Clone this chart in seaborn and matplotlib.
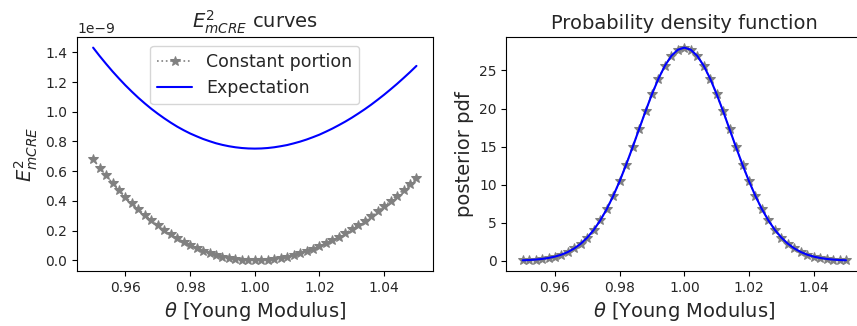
import numpy as np
import matplotlib
matplotlib.use("Agg")
import matplotlib.pyplot as plt
import seaborn as sns

sns.set_style("ticks")
plt.rcParams['font.family'] = ['DejaVu Sans']

# theta grid (Young modulus), 51 points
theta = [0.950, 0.952, 0.954, 0.956, 0.958, 0.960, 0.962, 0.964, 0.966, 0.968,
         0.970, 0.972, 0.974, 0.976, 0.978, 0.980, 0.982, 0.984, 0.986, 0.988,
         0.990, 0.992, 0.994, 0.996, 0.998, 1.000, 1.002, 1.004, 1.006, 1.008,
         1.010, 1.012, 1.014, 1.016, 1.018, 1.020, 1.022, 1.024, 1.026, 1.028,
         1.030, 1.032, 1.034, 1.036, 1.038, 1.040, 1.042, 1.044, 1.046, 1.048,
         1.050]

# E^2_mCRE, in units of 1e-9
constant_portion = [0.680, 0.624, 0.571, 0.520, 0.472, 0.426, 0.383, 0.342, 0.304, 0.268,
                    0.235, 0.204, 0.175, 0.148, 0.124, 0.102, 0.083, 0.065, 0.050, 0.036,
                    0.025, 0.016, 0.009, 0.004, 0.001, 0.000, 0.001, 0.004, 0.009, 0.016,
                    0.024, 0.035, 0.047, 0.061, 0.077, 0.094, 0.114, 0.135, 0.158, 0.182,
                    0.208, 0.236, 0.265, 0.296, 0.329, 0.363, 0.399, 0.436, 0.475, 0.515,
                    0.557]
expectation = [1.432, 1.376, 1.323, 1.272, 1.224, 1.178, 1.135, 1.094, 1.056, 1.020,
               0.987, 0.956, 0.927, 0.900, 0.876, 0.854, 0.835, 0.817, 0.802, 0.788,
               0.777, 0.768, 0.761, 0.756, 0.753, 0.752, 0.753, 0.756, 0.761, 0.768,
               0.776, 0.787, 0.799, 0.813, 0.829, 0.846, 0.866, 0.887, 0.910, 0.934,
               0.960, 0.988, 1.017, 1.048, 1.081, 1.115, 1.151, 1.188, 1.227, 1.267,
               1.309]

# posterior pdf
pdf_samples = [0.059, 0.096, 0.153, 0.238, 0.363, 0.544, 0.799, 1.150, 1.624, 2.247,
               3.051, 4.060, 5.297, 6.777, 8.500, 10.454, 12.606, 14.905, 17.278, 19.639,
               21.888, 23.917, 25.624, 26.918, 27.725, 28.000, 27.725, 26.918, 25.624, 23.917,
               21.888, 19.639, 17.278, 14.905, 12.606, 10.454, 8.500, 6.777, 5.297, 4.060,
               3.051, 2.247, 1.624, 1.150, 0.799, 0.544, 0.363, 0.238, 0.153, 0.096,
               0.059]
pdf_curve = list(pdf_samples)

theta = np.array(theta)
scale = 1e-9

fig = plt.figure(figsize=(8.57, 3.26), dpi=100)
ax1 = fig.add_axes([0.0898, 0.169, 0.415, 0.7175])
ax2 = fig.add_axes([0.591, 0.169, 0.415, 0.7175])

gray_kw = dict(color='gray', linestyle=':', marker='*', markersize=7,
               markeredgecolor='gray', markerfacecolor='gray', linewidth=1.2)

sns.lineplot(x=theta, y=np.array(constant_portion) * scale, ax=ax1,
             label='Constant portion', **gray_kw)
sns.lineplot(x=theta, y=np.array(expectation) * scale, ax=ax1,
             color='blue', linewidth=1.5, label='Expectation')
ax1.set_title(r'$E^2_{mCRE}$ curves', fontsize=14)
ax1.set_ylabel(r'$E^2_{mCRE}$', fontsize=14)
ax1.set_xlabel(r'$\theta$ [Young Modulus]', fontsize=14)
ax1.legend(loc='upper center', fontsize=12.5)
ax1.yaxis.get_offset_text().set_fontsize(10)

sns.lineplot(x=theta, y=pdf_samples, ax=ax2, **gray_kw)
sns.lineplot(x=theta, y=pdf_curve, ax=ax2, color='blue', linewidth=1.5)
ax2.set_title('Probability density function', fontsize=14)
ax2.set_ylabel('posterior pdf', fontsize=14)
ax2.set_xlabel(r'$\theta$ [Young Modulus]', fontsize=14)
ax2.set_yticks([0, 5, 10, 15, 20, 25])

for ax in (ax1, ax2):
    ax.set_xticks([0.96, 0.98, 1.00, 1.02, 1.04])
    ax.tick_params(labelsize=10, color='black')
    for s in ax.spines.values():
        s.set_color('black')
        s.set_visible(True)

fig.savefig('out.png', dpi=100)
